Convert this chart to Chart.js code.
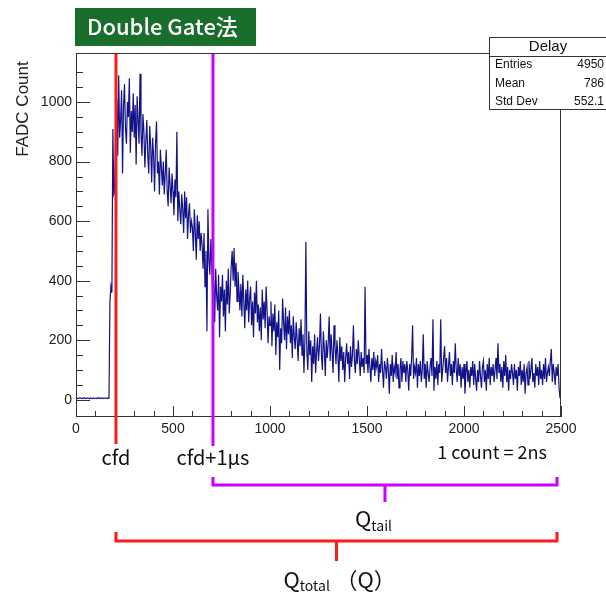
<!DOCTYPE html>
<html>
<head>
<meta charset="utf-8">
<title>Delay</title>
<script src="https://cdn.jsdelivr.net/npm/chart.js@4.4.1/dist/chart.umd.min.js"></script>
<style>
  html, body { margin: 0; padding: 0; background: #fff; }
  #wrap { position: relative; width: 606px; height: 594px; }
</style>
</head>
<body>
<div id="wrap"><canvas id="delayChart" width="606" height="594"></canvas></div>
<script>
// FADC waveform, one reading every 5 counts (1 count = 2 ns)
const BIN_WIDTH = 5;
const fadcCount = [
  // 0 - 195: baseline, then the rising edge
  5, 6, 4, 5, 7, 5, 4, 6, 5, 6,
  4, 5, 6, 5, 3, 6, 5, 4, 6, 5,
  5, 4, 6, 5, 7, 4, 5, 6, 4, 5,
  6, 5, 4, 6, 5, 330, 380, 360, 910, 690,
  // 200 - 695
  700, 960, 1010, 820, 1090, 880, 940, 1040, 760, 990,
  1060, 910, 860, 1000, 950, 1080, 830, 970, 900, 1030,
  880, 990, 790, 1020, 940, 860, 1095, 900, 820, 960,
  900, 780, 870, 940, 820, 760, 920, 850, 730, 880,
  820, 700, 860, 935, 760, 800, 690, 840, 780, 720,
  800, 690, 760, 840, 700, 650, 780, 720, 660, 760,
  700, 620, 740, 680, 900, 600, 700, 640, 590, 690,
  640, 560, 700, 610, 680, 540, 620, 660, 560, 600,
  580, 500, 640, 560, 470, 620, 540, 600, 500, 560,
  520, 440, 560, 380, 500, 230, 640, 470, 420, 540,
  // 700 - 1195
  450, 330, 400, 260, 440, 350, 300, 420, 210, 380,
  330, 420, 280, 370, 230, 400, 320, 440, 290, 360,
  450, 500, 400, 510, 380, 460, 330, 430, 370, 300,
  390, 280, 420, 330, 240, 370, 300, 400, 260, 340,
  380, 250, 330, 210, 360, 290, 400, 260, 320, 230,
  310, 200, 370, 270, 330, 240, 380, 300, 190, 280,
  250, 330, 180, 290, 230, 320, 150, 260, 210, 300,
  100, 240, 190, 340, 260, 200, 310, 170, 280, 220,
  300, 190, 250, 140, 280, 210, 170, 260, 200, 130,
  240, 180, 270, 150, 220, 90, 200, 530, 160, 100,
  // 1200 - 1695
  230, 150, 200, 60, 180, 120, 220, 90, 160, 210,
  130, 180, 290, 150, 100, 230, 170, 80, 200, 140,
  190, 280, 130, 220, 160, 90, 250, 180, 120, 200,
  150, 60, 210, 130, 180, 100, 160, 60, 140, 190,
  120, 160, 70, 180, 110, 150, 250, 130, 90, 170,
  120, 200, 140, 80, 160, 110, 140, 90, 380, 120,
  150, 90, 170, 110, 60, 140, 100, 160, 80, 130,
  110, 150, 60, 120, 90, 170, 100, 40, 130, 110,
  70, 140, 100, 20, 120, 80, 150, 60, 110, 90,
  160, 70, 120, 40, 100, 140, 60, 130, 90, 120,
  // 1700 - 2195
  60, 130, 100, 30, 120, 80, 140, 250, 70, 110,
  90, 140, 40, 120, 80, 130, 60, 100, 220, 70,
  120, 40, 130, 90, 60, 110, 140, 80, 270, 30,
  110, 70, 130, 50, 120, 90, 270, 60, 100, 140,
  180, 90, 140, 60, 110, 160, 80, 120, 50, 130,
  90, 190, 100, 60, 140, 80, 120, 40, 110, 70,
  120, 20, 90, 130, 60, 100, 40, 110, 80, 130,
  50, 120, 70, 30, 100, 60, 130, 80, 40, 110,
  130, 60, 100, 30, 120, 70, 140, 50, 110, 80,
  120, 60, 100, 140, 70, 190, 90, 120, 60, 110,
  // 2200 - 2495
  40, 130, 80, 150, 60, 110, 30, 100, 70, 120,
  90, 50, 120, 70, 100, 30, 110, 80, 130, 50,
  100, 60, 120, 20, 90, 110, 50, 130, 70, 100,
  140, 60, 90, 40, 120, 80, 110, 50, 130, 70,
  100, 50, 120, 70, 140, 60, 90, 110, 80, 130,
  170, 60, 120, 90, 50, 110, 80, 120, 40, 5
];
const binStart = fadcCount.map((_, i) => i * BIN_WIDTH);

const xTickLabels = [0, 500, 1000, 1500, 2000, 2500];
const yTickLabels = [0, 200, 400, 600, 800, 1000];

// gate positions in FADC counts
const cfdCount = 206;
const tailStart = 706;

const statsTitle = 'Delay';
const statsRows = [['Entries', '4950'], ['Mean', '786'], ['Std Dev', '552.1']];

const JP = '"Noto Sans CJK JP", "Noto Sans", sans-serif';
const SANS = '"Liberation Sans", Arial, sans-serif';

function seg(ctx, x1, y1, x2, y2) {
  ctx.beginPath();
  ctx.moveTo(x1, y1);
  ctx.lineTo(x2, y2);
  ctx.stroke();
}

// ROOT-like frame: box, inward ticks, gate markers
const rootFrame = {
  id: 'rootFrame',
  afterDatasetsDraw(chart) {
    const { ctx, chartArea: a, scales: { x, y } } = chart;
    ctx.save();
    ctx.strokeStyle = '#333';
    ctx.lineWidth = 1;
    ctx.strokeRect(a.left + 0.5, a.top + 0.5, a.right - a.left - 1, a.bottom - a.top - 1);

    x.ticks.forEach(t => {
      if (t.value % 100 !== 0) return;
      const px = Math.round(x.getPixelForValue(t.value)) + 0.5;
      const len = t.value % 500 === 0 ? 11 : 6;
      seg(ctx, px, a.bottom, px, a.bottom - len);
    });
    y.ticks.forEach(t => {
      if (t.value % 50 !== 0) return;
      const py = Math.round(y.getPixelForValue(t.value)) + 0.5;
      const len = t.value % 200 === 0 ? 14 : 7;
      seg(ctx, a.left, py, a.left + len, py);
    });

    // gate lines
    ctx.lineWidth = 3;
    ctx.strokeStyle = '#ff1a1a';
    const xc = x.getPixelForValue(cfdCount);
    seg(ctx, xc, a.top + 1, xc, a.bottom + 27);
    ctx.strokeStyle = '#cc00ff';
    const xt = x.getPixelForValue(tailStart);
    seg(ctx, xt, a.top + 1, xt, a.bottom + 29);
    ctx.restore();
  },
  afterDraw(chart) {
    const { ctx, chartArea: a, scales: { x } } = chart;
    ctx.save();

    // y axis title
    ctx.save();
    ctx.translate(23, 109);
    ctx.rotate(-Math.PI / 2);
    ctx.fillStyle = '#222';
    ctx.font = '17px ' + SANS;
    ctx.textAlign = 'center';
    ctx.textBaseline = 'middle';
    ctx.fillText('FADC Count', 0, 0);
    ctx.restore();

    // title badge
    ctx.fillStyle = '#186e2a';
    ctx.fillRect(75, 8, 181, 38);
    ctx.fillStyle = '#fff';
    ctx.font = '500 22px ' + JP;
    ctx.textAlign = 'left';
    ctx.textBaseline = 'middle';
    ctx.fillText('Double Gate法', 87, 27);

    // statistics box
    const bx = 489.5, by = 37.5, bw = 130, bh = 72;
    ctx.fillStyle = '#fff';
    ctx.fillRect(bx, by, bw, bh);
    ctx.strokeStyle = '#333';
    ctx.lineWidth = 1;
    ctx.strokeRect(bx, by, bw, bh);
    seg(ctx, bx, 56.5, bx + bw, 56.5);
    ctx.fillStyle = '#111';
    ctx.font = '15px ' + SANS;
    ctx.textAlign = 'center';
    ctx.fillText(statsTitle, 548, 47);
    ctx.font = '12px ' + SANS;
    statsRows.forEach((r, i) => {
      const ry = 65 + i * 18.5;
      ctx.textAlign = 'left';
      ctx.fillText(r[0], 495, ry);
      ctx.textAlign = 'right';
      ctx.fillText(r[1], 604, ry);
    });

    // gate labels
    const xc = x.getPixelForValue(cfdCount);
    const xt = x.getPixelForValue(tailStart);
    const xe = a.right - 4;
    ctx.fillStyle = '#111';
    ctx.font = '20px ' + JP;
    ctx.textAlign = 'center';
    ctx.textBaseline = 'middle';
    ctx.fillText('cfd', xc, 457);
    ctx.fillText('cfd+1μs', xt, 457);
    ctx.textAlign = 'right';
    ctx.font = '18px ' + JP;
    ctx.fillText('1 count = 2ns', 547, 452);

    // integration ranges
    ctx.lineWidth = 3;
    ctx.strokeStyle = '#cc00ff';
    ctx.beginPath();
    ctx.moveTo(xt, 477); ctx.lineTo(xt, 485); ctx.lineTo(xe, 485); ctx.lineTo(xe, 477);
    ctx.stroke();
    const mt = (xt + xe) / 2;
    seg(ctx, mt, 485, mt, 502);

    ctx.strokeStyle = '#ff1a1a';
    ctx.beginPath();
    ctx.moveTo(xc, 532); ctx.lineTo(xc, 541); ctx.lineTo(xe, 541); ctx.lineTo(xe, 532);
    ctx.stroke();
    const mc = (xc + xe) / 2;
    seg(ctx, mc, 541, mc, 561);

    ctx.fillStyle = '#111';
    ctx.textAlign = 'left';
    ctx.textBaseline = 'alphabetic';
    ctx.font = '22px ' + JP;
    ctx.fillText('Q', mt - 30, 527);
    const qw = ctx.measureText('Q').width;
    ctx.font = '14px ' + JP;
    ctx.fillText('tail', mt - 30 + qw, 531);

    ctx.font = '22px ' + JP;
    ctx.fillText('Q', mc - 53, 588);
    ctx.font = '14px ' + JP;
    ctx.fillText('total', mc - 53 + qw, 591);
    ctx.font = '22px ' + JP;
    ctx.fillText('（Q）', mc - 1, 588);

    ctx.restore();
  }
};

new Chart(document.getElementById('delayChart').getContext('2d'), {
  type: 'line',
  data: {
    datasets: [{
      label: statsTitle,
      data: fadcCount.map((v, i) => ({ x: binStart[i], y: v })),
      borderColor: '#12128a',
      borderWidth: 1.2,
      pointRadius: 0,
      tension: 0,
      fill: false
    }]
  },
  options: {
    responsive: false,
    animation: false,
    events: [],
    layout: { padding: { top: 53, right: 45, bottom: 155, left: 0 } },
    plugins: { legend: { display: false }, tooltip: { enabled: false } },
    scales: {
      x: {
        type: 'linear',
        min: 0,
        max: 2500,
        grid: { display: false, drawTicks: false },
        border: { display: false },
        ticks: {
          stepSize: 100,
          autoSkip: false,
          maxRotation: 0,
          padding: 4,
          color: '#222',
          font: { family: SANS, size: 14 },
          callback: v => xTickLabels.includes(v) ? String(v) : ''
        },
        afterFit: s => { s.height = 22; }
      },
      y: {
        min: -58,
        max: 1165,
        grid: { display: false, drawTicks: false },
        border: { display: false },
        ticks: {
          stepSize: 50,
          autoSkip: false,
          padding: 4,
          color: '#222',
          font: { family: SANS, size: 14 },
          callback: v => yTickLabels.includes(v) ? String(v) : ''
        },
        afterFit: s => { s.width = 76; }
      }
    }
  },
  plugins: [rootFrame]
});
</script>
</body>
</html>
